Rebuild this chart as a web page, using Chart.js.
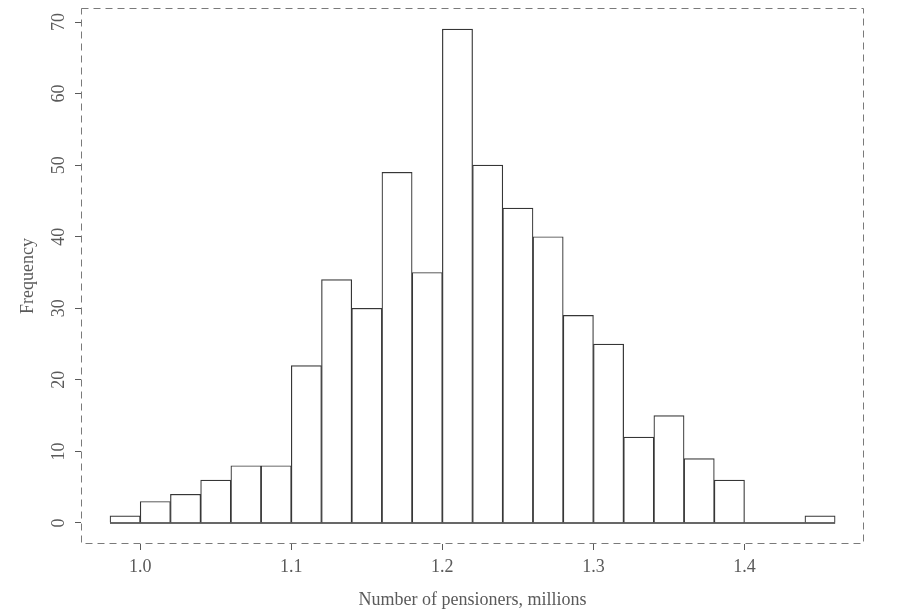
<!DOCTYPE html>
<html>
<head>
<meta charset="utf-8">
<script src="https://cdn.jsdelivr.net/npm/chart.js@4"></script>
<style>
  html, body { margin: 0; padding: 0; background: #fff; }
  #wrap { width: 900px; height: 611px; }
</style>
</head>
<body>
<div id="wrap"><canvas id="hist"></canvas></div>
<script>
// histogram bins (edges) and counts
const binEdges = [0.98, 1.00, 1.02, 1.04, 1.06, 1.08, 1.10, 1.12, 1.14, 1.16, 1.18, 1.20, 1.22,
    1.24, 1.26, 1.28, 1.30, 1.32, 1.34, 1.36, 1.38, 1.40, 1.42, 1.44, 1.46];
const counts = [1, 3, 4, 6, 8, 8, 22, 34, 30, 49, 35, 69, 50, 44, 40, 29, 25, 12, 15, 9, 6, 0, 0, 1];
const xTicks = [1.0, 1.1, 1.2, 1.3, 1.4];
const yTicks = [0, 10, 20, 30, 40, 50, 60, 70];

const ink = "#363636";
const grey = "#5a5a5a";
const font = { family: "'Liberation Serif', 'DejaVu Serif', serif", size: 18 };

const bars = counts.map((c, i) => ({ x: (binEdges[i] + binEdges[i + 1]) / 2, y: c }));
// R draws empty bins as a flat line, so run one line along zero under all bins
const baseline = [{ x: binEdges[0], y: 0 }, { x: binEdges[binEdges.length - 1], y: 0 }];

// dashed box round the plot area, like R's box(lty = 2)
const dashedBox = {
    id: "dashedBox",
    afterDraw(chart) {
        const a = chart.chartArea;
        const ctx = chart.ctx;
        ctx.save();
        ctx.strokeStyle = "#7a7a7a";
        ctx.lineWidth = 1;
        ctx.setLineDash([7, 5]);
        ctx.strokeRect(a.left + 0.5, a.top + 0.5, a.right - a.left - 1, a.bottom - a.top - 1);
        ctx.restore();
    }
};

new Chart(document.getElementById("hist"), {
    type: "bar",
    data: {
        datasets: [
            {
                type: "line",
                data: baseline,
                borderColor: ink,
                borderWidth: 1.6,
                pointRadius: 0,
                order: 0
            },
            {
                data: bars,
                backgroundColor: "#fff",
                borderColor: ink,
                borderWidth: 1.2,
                borderSkipped: "start",
                barPercentage: 1,
                categoryPercentage: 1,
                grouped: false,
                order: 1
            }
        ]
    },
    options: {
        responsive: true,
        maintainAspectRatio: false,
        animation: false,
        layout: { padding: { top: 8, right: 36, bottom: 0, left: 0 } },
        plugins: { legend: { display: false }, tooltip: { enabled: false } },
        scales: {
            x: {
                type: "linear",
                offset: false,
                min: 0.9608,
                max: 1.4791,
                afterBuildTicks: s => { s.ticks = xTicks.map(v => ({ value: v })); },
                afterFit: s => { s.height = 67; s.paddingLeft = 0; s.paddingRight = 0; },
                grid: { offset: false, drawOnChartArea: false, drawTicks: true, tickLength: 6, color: grey },
                border: { display: false },
                ticks: {
                    color: grey,
                    font,
                    padding: 6,
                    maxRotation: 0,
                    callback: v => v.toFixed(1)
                },
                title: {
                    display: true,
                    text: "Number of pensioners, millions",
                    color: grey,
                    font,
                    padding: { top: 0, bottom: 0 }
                }
            },
            y: {
                min: -2.94,
                max: 71.96,
                afterBuildTicks: s => { s.ticks = yTicks.map(v => ({ value: v })); },
                afterFit: s => { s.width = 81; s.paddingTop = 0; s.paddingBottom = 0; },
                grid: { drawOnChartArea: false, drawTicks: true, tickLength: 6, color: grey },
                border: { display: false },
                ticks: {
                    color: grey,
                    font,
                    padding: 7,
                    minRotation: 90,
                    maxRotation: 90,
                    crossAlign: "center"
                },
                title: {
                    display: true,
                    text: "Frequency",
                    color: grey,
                    font,
                    padding: { top: 17, bottom: 0 }
                }
            }
        }
    },
    plugins: [dashedBox]
});
</script>
</body>
</html>
